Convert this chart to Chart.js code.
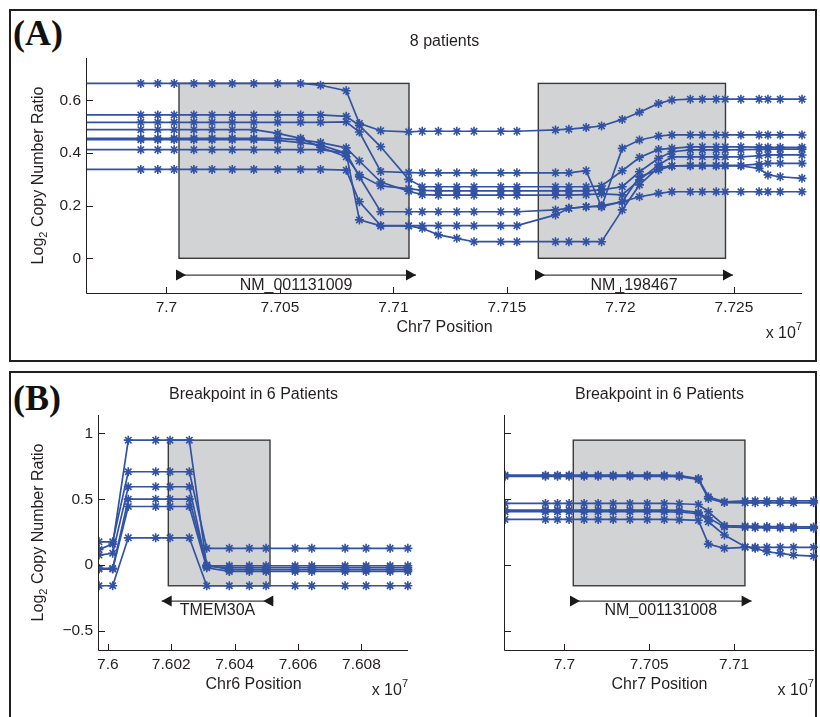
<!DOCTYPE html>
<html>
<head>
<meta charset="utf-8">
<script src="https://cdn.jsdelivr.net/npm/chart.js@4.4.1/dist/chart.umd.min.js"></script>
<style>
  body { margin: 0; background: #fff; }
  #wrap { position: relative; width: 820px; height: 717px; overflow: hidden; background: #fff; }
  .panel { position: absolute; box-sizing: border-box; border: 2px solid #231f20; }
  .tag { position: absolute; font: bold 36px "Liberation Serif", "Times New Roman", serif; line-height: 36px; color: #111; }
  canvas { position: absolute; }
</style>
</head>
<body>
<div id="wrap">
  <div class="panel" style="left:9px;top:9px;width:808px;height:353px"></div>
  <div class="panel" style="left:9px;top:371px;width:808px;height:400px"></div>
  <div class="tag" style="left:13px;top:15px">(A)</div>
  <div class="tag" style="left:13px;top:380px">(B)</div>
  <canvas id="chartA" width="820" height="365" style="left:0;top:0"></canvas>
  <canvas id="chartBL" width="420" height="352" style="left:0;top:365px"></canvas>
  <canvas id="chartBR" width="400" height="352" style="left:420px;top:365px"></canvas>
</div>
<script>
// ---- Panel A : Chr7, 8 patients ----
// first position lies just left of the axis so the lines run into it
const aPositions = [76950000, 76988700, 76996200, 77003400, 77012100, 77020100, 77029000, 77038500, 77049000, 77059100,
  77067900, 77079200, 77085000, 77094400, 77106700, 77112700, 77119800, 77127900, 77135500, 77147300,
  77154400, 77171400, 77177300, 77184900, 77191700, 77200800, 77208400, 77216800, 77222700, 77230800,
  77236100, 77242200, 77246200, 77253100, 77261100, 77265000, 77270400, 77280000];
const aRatio1 = [0.665, 0.665, 0.665, 0.665, 0.665, 0.665, 0.665, 0.665, 0.665, 0.665, 0.658, 0.637, 0.513, 0.485, 0.481, 0.483, 0.483, 0.483, 0.483, 0.483, 0.483, 0.488, 0.491, 0.497, 0.503, 0.528, 0.555, 0.589, 0.602, 0.605, 0.605, 0.605, 0.605, 0.605, 0.605, 0.605, 0.605, 0.605];
const aRatio2 = [0.545, 0.545, 0.545, 0.545, 0.545, 0.545, 0.545, 0.545, 0.545, 0.545, 0.545, 0.540, 0.505, 0.424, 0.300, 0.272, 0.272, 0.272, 0.272, 0.272, 0.272, 0.272, 0.272, 0.272, 0.275, 0.333, 0.383, 0.414, 0.418, 0.424, 0.424, 0.424, 0.424, 0.424, 0.423, 0.422, 0.422, 0.422];
const aRatio3 = [0.517, 0.517, 0.517, 0.517, 0.517, 0.517, 0.517, 0.517, 0.517, 0.517, 0.517, 0.519, 0.480, 0.330, 0.326, 0.325, 0.325, 0.325, 0.325, 0.325, 0.325, 0.325, 0.325, 0.333, 0.196, 0.418, 0.450, 0.465, 0.469, 0.469, 0.469, 0.469, 0.469, 0.469, 0.469, 0.469, 0.469, 0.469];
const aRatio4 = [0.489, 0.489, 0.489, 0.489, 0.489, 0.489, 0.489, 0.489, 0.475, 0.456, 0.422, 0.386, 0.317, 0.275, 0.265, 0.258, 0.256, 0.256, 0.256, 0.256, 0.256, 0.256, 0.256, 0.256, 0.260, 0.272, 0.329, 0.380, 0.405, 0.412, 0.412, 0.412, 0.412, 0.413, 0.414, 0.415, 0.415, 0.415];
const aRatio5 = [0.456, 0.456, 0.456, 0.456, 0.456, 0.456, 0.456, 0.456, 0.456, 0.450, 0.440, 0.420, 0.370, 0.290, 0.255, 0.242, 0.240, 0.240, 0.240, 0.240, 0.240, 0.240, 0.240, 0.242, 0.245, 0.241, 0.298, 0.355, 0.386, 0.386, 0.386, 0.386, 0.386, 0.386, 0.390, 0.393, 0.393, 0.393];
const aRatio6 = [0.451, 0.451, 0.451, 0.451, 0.451, 0.451, 0.451, 0.451, 0.448, 0.440, 0.430, 0.400, 0.146, 0.123, 0.123, 0.114, 0.089, 0.076, 0.063, 0.063, 0.063, 0.063, 0.063, 0.063, 0.063, 0.184, 0.279, 0.346, 0.351, 0.351, 0.351, 0.351, 0.351, 0.351, 0.342, 0.317, 0.310, 0.304];
const aRatio7 = [0.413, 0.413, 0.413, 0.413, 0.413, 0.413, 0.413, 0.413, 0.413, 0.413, 0.413, 0.400, 0.310, 0.177, 0.177, 0.177, 0.177, 0.177, 0.177, 0.177, 0.177, 0.184, 0.190, 0.196, 0.196, 0.215, 0.310, 0.336, 0.351, 0.353, 0.353, 0.353, 0.353, 0.353, 0.358, 0.361, 0.361, 0.361];
const aRatio8 = [0.338, 0.338, 0.338, 0.338, 0.338, 0.338, 0.338, 0.338, 0.338, 0.338, 0.338, 0.335, 0.215, 0.124, 0.124, 0.124, 0.124, 0.124, 0.124, 0.124, 0.124, 0.165, 0.190, 0.196, 0.200, 0.215, 0.234, 0.247, 0.253, 0.253, 0.253, 0.253, 0.253, 0.253, 0.253, 0.253, 0.253, 0.253];
const aTicksX = [77000000, 77050000, 77100000, 77150000, 77200000, 77250000];
const aTickLabelsX = ['7.7', '7.705', '7.71', '7.715', '7.72', '7.725'];
const aTicksY = [0, 0.2, 0.4, 0.6];
const aTickLabelsY = ['0', '0.2', '0.4', '0.6'];
const aBoxStart = [77005530, 77163830];
const aBoxEnd = [77106860, 77246300];
const aBoxLow = 0;
const aBoxHigh = 0.665;
const aGenes = [
  { name: 'NM_001131009', start: 77004210, end: 77109950, strand: 1 },
  { name: 'NM_198467', start: 77162370, end: 77249610, strand: 1 }
];

// ---- Panel B left : Chr6, 6 patients ----
const bLeftPos = [75999720, 76000152, 76000644, 76001509, 76001961, 76002570, 76003119, 76003833, 76004464, 76004991, 76005907, 76006434, 76007485, 76008148, 76008906, 76009465];
const bLeft1 = [0.119, 0.160, 0.949, 0.949, 0.949, 0.949, -0.005, -0.005, -0.005, -0.005, -0.005, -0.005, -0.005, -0.005, -0.005, -0.005];
const bLeft2 = [0.177, 0.177, 0.709, 0.709, 0.709, 0.709, 0.127, 0.127, 0.127, 0.127, 0.127, 0.127, 0.127, 0.127, 0.127, 0.127];
const bLeft3 = [0.076, 0.090, 0.595, 0.595, 0.595, 0.595, -0.010, -0.020, -0.020, -0.020, -0.020, -0.020, -0.020, -0.020, -0.020, -0.020];
const bLeft4 = [-0.025, -0.025, 0.501, 0.501, 0.501, 0.501, 0.000, -0.035, -0.035, -0.035, -0.035, -0.035, -0.035, -0.035, -0.035, -0.035];
const bLeft5 = [-0.030, -0.030, 0.445, 0.445, 0.445, 0.445, -0.020, -0.048, -0.048, -0.048, -0.048, -0.048, -0.048, -0.048, -0.048, -0.048];
const bLeft6 = [-0.157, -0.157, 0.207, 0.207, 0.207, 0.207, -0.157, -0.157, -0.157, -0.157, -0.157, -0.157, -0.157, -0.157, -0.157, -0.157];
const bLeftTicksX = [76000000, 76002000, 76004000, 76006000, 76008000];
const bLeftTickLabelsX = ['7.6', '7.602', '7.604', '7.606', '7.608'];
const bLeftBoxStart = [76001907];
const bLeftBoxEnd = [76005116];
const bLeftGenes = [{ name: 'TMEM30A', start: 76001698, end: 76005220, strand: -1 }];

// ---- Panel B right : Chr7, 6 patients ----
const bRightPos = [76996500, 76998884, 76999593, 77000277, 77001163, 77001989, 77002875, 77003861, 77004882, 77005886, 77006771, 77007893, 77008483, 77009427, 77010649, 77011240, 77011930, 77012716, 77013501, 77014681];
const bRight1 = [0.683, 0.683, 0.683, 0.683, 0.683, 0.683, 0.683, 0.683, 0.683, 0.683, 0.680, 0.658, 0.519, 0.481, 0.488, 0.488, 0.488, 0.488, 0.488, 0.488];
const bRight2 = [0.674, 0.674, 0.674, 0.674, 0.674, 0.674, 0.674, 0.674, 0.674, 0.674, 0.672, 0.650, 0.505, 0.475, 0.473, 0.473, 0.473, 0.473, 0.473, 0.473];
const bRight3 = [0.468, 0.468, 0.468, 0.468, 0.468, 0.468, 0.468, 0.468, 0.468, 0.468, 0.466, 0.460, 0.405, 0.300, 0.296, 0.295, 0.293, 0.292, 0.291, 0.290];
const bRight4 = [0.418, 0.418, 0.418, 0.418, 0.418, 0.418, 0.418, 0.418, 0.418, 0.418, 0.415, 0.400, 0.329, 0.228, 0.139, 0.127, 0.101, 0.089, 0.076, 0.068];
const bRight5 = [0.405, 0.405, 0.405, 0.405, 0.405, 0.405, 0.405, 0.405, 0.405, 0.405, 0.403, 0.390, 0.360, 0.290, 0.286, 0.284, 0.282, 0.281, 0.280, 0.280];
const bRight6 = [0.347, 0.347, 0.347, 0.347, 0.347, 0.347, 0.347, 0.347, 0.347, 0.347, 0.345, 0.340, 0.159, 0.127, 0.135, 0.135, 0.135, 0.135, 0.135, 0.135];
const bRightTicksX = [77000000, 77005000, 77010000];
const bRightTickLabelsX = ['7.7', '7.705', '7.71'];
const bRightBoxStart = [77000523];
const bRightBoxEnd = [77010636];
const bRightGenes = [{ name: 'NM_001131008', start: 77000328, end: 77011030, strand: 1 }];

// shared y axis of panel B
const bTicksY = [-0.5, 0, 0.5, 1];
const bTickLabelsY = ['\u22120.5', '0', '0.5', '1'];
const bBoxLow = -0.157;
const bBoxHigh = 0.949;

const FONT = '"Liberation Sans", Arial, sans-serif';
const INK = '#231f20';
const BLUE = '#3252a4';

// boxes, gene arrows, axes with inward ticks, y title, exponent
const decor = {
  id: 'decor',
  beforeDatasetsDraw(chart, args, opts) {
    const { ctx, scales: { x, y } } = chart;
    ctx.save();
    opts.boxStart.forEach((s, i) => {
      const x1 = x.getPixelForValue(s), x2 = x.getPixelForValue(opts.boxEnd[i]);
      const y1 = y.getPixelForValue(opts.boxHigh), y2 = y.getPixelForValue(opts.boxLow);
      ctx.fillStyle = '#d1d3d4';
      ctx.fillRect(x1, y1, x2 - x1, y2 - y1);
      ctx.strokeStyle = '#3a3a3a';
      ctx.lineWidth = 1.4;
      ctx.strokeRect(x1, y1, x2 - x1, y2 - y1);
    });
    for (const g of opts.genes) {
      const x1 = x.getPixelForValue(g.start), x2 = x.getPixelForValue(g.end);
      const py = y.getPixelForValue(opts.geneY);
      ctx.strokeStyle = '#3c3c3c';
      ctx.lineWidth = 1.3;
      ctx.beginPath();
      ctx.moveTo(x1, py);
      ctx.lineTo(x2, py);
      ctx.stroke();
      const w = 10, h = 5.5;
      ctx.fillStyle = '#1a1a1a';
      for (const bx of [x1, x2 - w]) {
        ctx.beginPath();
        if (g.strand > 0) {
          ctx.moveTo(bx, py - h); ctx.lineTo(bx + w, py); ctx.lineTo(bx, py + h);
        } else {
          ctx.moveTo(bx + w, py - h); ctx.lineTo(bx, py); ctx.lineTo(bx + w, py + h);
        }
        ctx.closePath();
        ctx.fill();
      }
      ctx.fillStyle = INK;
      ctx.font = '16px ' + FONT;
      ctx.textAlign = 'center';
      ctx.textBaseline = 'middle';
      ctx.fillText(g.name, (x1 + x2) / 2, py + 10);
    }
    ctx.restore();
  },
  afterDraw(chart, args, opts) {
    const { ctx, chartArea: { left, right, top, bottom }, scales: { x, y } } = chart;
    ctx.save();
    ctx.strokeStyle = INK;
    ctx.lineWidth = 1;
    ctx.beginPath();
    ctx.moveTo(left - 0.5, top);
    ctx.lineTo(left - 0.5, bottom + 0.5);
    ctx.lineTo(right, bottom + 0.5);
    for (const t of x.ticks) {
      const px = Math.round(x.getPixelForValue(t.value)) + 0.5;
      ctx.moveTo(px, bottom);
      ctx.lineTo(px, bottom - 6);
    }
    for (const t of y.ticks) {
      const py = Math.round(y.getPixelForValue(t.value)) + 0.5;
      ctx.moveTo(left, py);
      ctx.lineTo(left + 6, py);
    }
    ctx.stroke();

    ctx.fillStyle = INK;
    if (opts.yTitle) {
      ctx.save();
      ctx.translate(43, (top + bottom) / 2);
      ctx.rotate(-Math.PI / 2);
      ctx.textAlign = 'left';
      ctx.textBaseline = 'alphabetic';
      ctx.font = '16px ' + FONT;
      const w1 = ctx.measureText('Log').width;
      const w3 = ctx.measureText(' Copy Number Ratio').width;
      ctx.font = '11px ' + FONT;
      const w2 = ctx.measureText('2').width;
      const sx = -(w1 + w2 + w3) / 2;
      ctx.font = '16px ' + FONT;
      ctx.fillText('Log', sx, 0);
      ctx.font = '11px ' + FONT;
      ctx.fillText('2', sx + w1, 4);
      ctx.font = '16px ' + FONT;
      ctx.fillText(' Copy Number Ratio', sx + w1 + w2, 0);
      ctx.restore();
    }
    // x 10^7
    ctx.textAlign = 'right';
    ctx.textBaseline = 'alphabetic';
    ctx.font = '11px ' + FONT;
    const w7 = ctx.measureText('7').width;
    ctx.fillText('7', right, bottom + 37);
    ctx.font = '16px ' + FONT;
    ctx.fillText('x 10', right - w7, bottom + 45);
    ctx.restore();
  }
};

function fixedTicks(values, labels) {
  return {
    afterBuildTicks: (scale) => { scale.ticks = values.map(v => ({ value: v })); },
    callback: (v) => labels[values.indexOf(v)]
  };
}

function makeChart(id, p) {
  const xt = fixedTicks(p.ticksX, p.tickLabelsX);
  const yt = fixedTicks(p.ticksY, p.tickLabelsY);
  return new Chart(document.getElementById(id), {
    type: 'line',
    data: {
      datasets: p.series.map(vals => ({
        data: p.positions.map((pos, i) => ({ x: pos, y: vals[i] })),
        borderColor: BLUE,
        borderWidth: 1.7,
        pointStyle: 'star',
        pointRadius: 4.5,
        pointBorderWidth: 1.6,
        pointBorderColor: BLUE,
        pointBackgroundColor: BLUE,
        tension: 0,
        fill: false,
        clip: { left: 0, top: 8, right: 8, bottom: 8 }
      }))
    },
    plugins: [decor],
    options: {
      responsive: false,
      devicePixelRatio: 1,
      animation: false,
      events: [],
      layout: { padding: { left: 0, right: p.padRight, top: 0, bottom: 0 } },
      plugins: {
        legend: { display: false },
        tooltip: { enabled: false },
        title: {
          display: true,
          text: p.title,
          fullSize: false,
          color: INK,
          font: { family: FONT, size: 16, weight: 'normal' },
          padding: { top: p.titleTop, bottom: p.titleBottom }
        },
        decor: {
          boxStart: p.boxStart, boxEnd: p.boxEnd, boxLow: p.boxLow, boxHigh: p.boxHigh,
          genes: p.genes, geneY: p.geneY, yTitle: p.yTitle
        }
      },
      scales: {
        x: {
          type: 'linear',
          min: p.xMin, max: p.xMax,
          afterBuildTicks: xt.afterBuildTicks,
          afterFit: (s) => { s.height = p.xHeight; },
          grid: { display: false, drawTicks: false },
          border: { display: false },
          ticks: { callback: xt.callback, autoSkip: false, maxRotation: 0, padding: 5, color: INK, font: { family: FONT, size: 15.5 } },
          title: { display: true, text: p.xTitle, color: INK, font: { family: FONT, size: 16 }, padding: { top: 0, bottom: p.xTitleBottom } }
        },
        y: {
          min: p.yMin, max: p.yMax,
          afterBuildTicks: yt.afterBuildTicks,
          afterFit: (s) => { s.width = p.yWidth; },
          grid: { display: false, drawTicks: false },
          border: { display: false },
          ticks: { display: p.yLabels, callback: yt.callback, autoSkip: false, padding: 6, color: INK, font: { family: FONT, size: 15.5 } }
        }
      }
    }
  });
}

makeChart('chartA', {
  positions: aPositions,
  series: [aRatio1, aRatio2, aRatio3, aRatio4, aRatio5, aRatio6, aRatio7, aRatio8],
  ticksX: aTicksX, tickLabelsX: aTickLabelsX, ticksY: aTicksY, tickLabelsY: aTickLabelsY,
  boxStart: aBoxStart, boxEnd: aBoxEnd, boxLow: aBoxLow, boxHigh: aBoxHigh,
  genes: aGenes, geneY: -0.064,
  title: '8 patients', titleTop: 32.4, titleBottom: 6.4,
  xTitle: 'Chr7 Position', xTitleBottom: 27.4,
  xMin: 76965000, xMax: 77280000, yMin: -0.132, yMax: 0.7616,
  xHeight: 72, yWidth: 87, padRight: 18, yTitle: true, yLabels: true
});

makeChart('chartBL', {
  positions: bLeftPos,
  series: [bLeft1, bLeft2, bLeft3, bLeft4, bLeft5, bLeft6],
  ticksX: bLeftTicksX, tickLabelsX: bLeftTickLabelsX, ticksY: bTicksY, tickLabelsY: bTickLabelsY,
  boxStart: bLeftBoxStart, boxEnd: bLeftBoxEnd, boxLow: bBoxLow, boxHigh: bBoxHigh,
  genes: bLeftGenes, geneY: -0.273,
  title: 'Breakpoint in 6 Patients', titleTop: 20.4, titleBottom: 10.4,
  xTitle: 'Chr6 Position', xTitleBottom: 22.4,
  xMin: 75999720, xMax: 76009470, yMin: -0.645, yMax: 1.14,
  xHeight: 67, yWidth: 99, padRight: 12, yTitle: true, yLabels: true
});

makeChart('chartBR', {
  positions: bRightPos,
  series: [bRight1, bRight2, bRight3, bRight4, bRight5, bRight6],
  ticksX: bRightTicksX, tickLabelsX: bRightTickLabelsX, ticksY: bTicksY, tickLabelsY: bTickLabelsY,
  boxStart: bRightBoxStart, boxEnd: bRightBoxEnd, boxLow: bBoxLow, boxHigh: bBoxHigh,
  genes: bRightGenes, geneY: -0.273,
  title: 'Breakpoint in 6 Patients', titleTop: 20.4, titleBottom: 10.4,
  xTitle: 'Chr7 Position', xTitleBottom: 22.4,
  xMin: 76996500, xMax: 77014700, yMin: -0.645, yMax: 1.14,
  xHeight: 67, yWidth: 85, padRight: 6, yTitle: false, yLabels: false
});
</script>
</body>
</html>
